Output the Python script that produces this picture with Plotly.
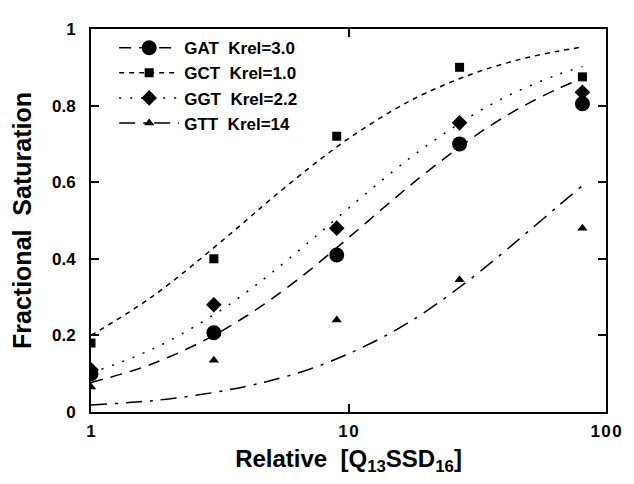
import plotly.graph_objects as go

# Measured data points
x_data = [1, 3, 9, 27, 81]
gat = [0.10, 0.207, 0.41, 0.70, 0.805]
gct = [0.18, 0.40, 0.72, 0.90, 0.875]
ggt = [0.11, 0.28, 0.48, 0.755, 0.835]
gtt = [0.065, 0.135, 0.24, 0.345, 0.48]

# Fitted curves
x_fit = [1, 1.5, 2, 3, 4, 5, 7, 10, 15, 20, 30, 40, 50, 65, 81]
gat_fit = [0.077, 0.111, 0.143, 0.20, 0.25, 0.294, 0.368, 0.455, 0.556, 0.625, 0.714, 0.769, 0.806, 0.844, 0.871]
gct_fit = [0.20, 0.273, 0.333, 0.429, 0.50, 0.556, 0.636, 0.714, 0.789, 0.833, 0.882, 0.909, 0.926, 0.942, 0.953]
ggt_fit = [0.102, 0.146, 0.185, 0.254, 0.312, 0.362, 0.443, 0.532, 0.630, 0.694, 0.773, 0.820, 0.850, 0.881, 0.902]
gtt_fit = [0.018, 0.026, 0.034, 0.051, 0.067, 0.082, 0.111, 0.152, 0.211, 0.263, 0.349, 0.417, 0.472, 0.537, 0.591]

names = ["GAT  Krel=3.0", "GCT  Krel=1.0", "GGT  Krel=2.2", "GTT  Krel=14"]
symbols = ["circle", "square", "diamond", "triangle-up"]
sizes = [15, 9, 12, 9]
dashes = ["12px,8px", "5px,5px", "2px,9px", "16px,8px,3px,8px"]
x_ticks = [1, 10, 100]
x_ticktext = ["1", "1\u200a0", "1\u200a0\u200a0"]

FONT = "Liberation Sans"
fig = go.Figure()
for nm, sym, sz, ds, yd, yf in zip(names, symbols, sizes, dashes,
                                   [gat, gct, ggt, gtt],
                                   [gat_fit, gct_fit, ggt_fit, gtt_fit]):
    fig.add_trace(go.Scatter(x=x_fit, y=yf, mode="lines", line=dict(color="black", width=1.5, dash=ds, shape="spline"),
                             showlegend=False))
    fig.add_trace(go.Scatter(x=x_data, y=yd, mode="markers", marker=dict(symbol=sym, size=sz, color="black"),
                             showlegend=False))
    fig.add_trace(go.Scatter(x=[None], y=[None], mode="lines+markers", name=nm,
                             line=dict(color="black", width=1.5, dash=ds),
                             marker=dict(symbol=sym, size=sz, color="black")))

# page body has an 8px margin, so the figure is sized to fit inside the window
fig.update_layout(
    width=626, height=476,
    margin=dict(l=83, r=21, t=12, b=72),
    paper_bgcolor="white", plot_bgcolor="white",
    font=dict(family=FONT, color="black", size=16),
    legend=dict(x=0.045, y=0.997, xanchor="left", yanchor="top", bgcolor="rgba(0,0,0,0)",
                font=dict(family=FONT, size=17, weight="bold"), tracegroupgap=0, itemwidth=60),
    xaxis=dict(type="log", range=[0, 2], tickvals=x_ticks, ticktext=x_ticktext,
               showgrid=False, zeroline=False, showline=True, linecolor="black", linewidth=2, mirror="ticks",
               ticks="inside", ticklen=8, tickwidth=1.5, tickcolor="black", ticklabelstandoff=3,
               tickfont=dict(size=17, weight="bold"),
               title=dict(text="Relative  [Q<sub>13</sub>SSD<sub>16</sub>]", font=dict(size=24, weight="bold"), standoff=10)),
    yaxis=dict(range=[0, 1], tickvals=[0, 0.2, 0.4, 0.6, 0.8, 1], ticktext=["0", "0.2", "0.4", "0.6", "0.8", "1"],
               showgrid=False, zeroline=False, showline=True, linecolor="black", linewidth=2, mirror="ticks",
               ticks="inside", ticklen=8, tickwidth=1.5, tickcolor="black", ticklabelstandoff=10,
               tickfont=dict(size=17, weight="bold"),
               title=dict(text="Fractional  Saturation", font=dict(size=25, weight="bold"), standoff=14)),
)
fig.write_html("out.html")
